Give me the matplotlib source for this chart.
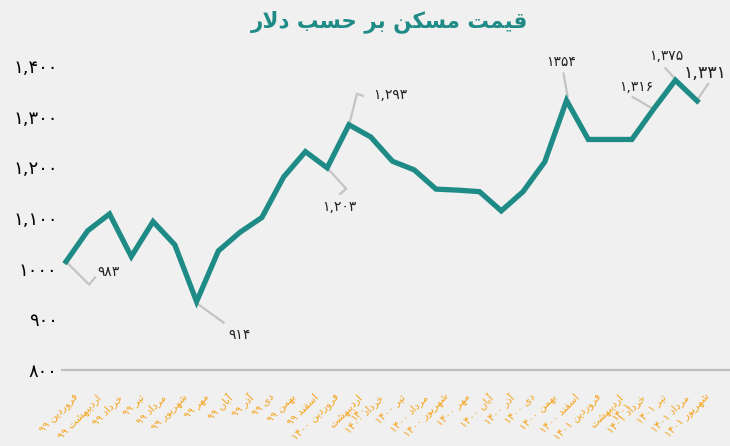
import matplotlib
matplotlib.use("Agg")
import matplotlib.pyplot as plt
import matplotlib.transforms as mtransforms
from matplotlib import font_manager, ft2font

# monthly housing price (USD per m2), farvardin 99 .. shahrivar 1401
MONTHS = ["فروردین", "اردیبهشت", "خرداد", "تیر", "مرداد", "شهریور",
          "مهر", "آبان", "آذر", "دی", "بهمن", "اسفند",
          "فروردین", "اردیبهشت", "خرداد", "تیر", "مرداد", "شهریور",
          "مهر", "آبان", "آذر", "دی", "بهمن", "اسفند",
          "فروردین", "اردیبهشت", "خرداد", "تیر", "مرداد", "شهریور"]
YEARS = ["۹۹"] * 12 + ["۱۴۰۰"] * 12 + ["۱۴۰۱"] * 6
PRICE = [1014, 1075, 1108, 1024, 1093, 1047, 935, 1035, 1072, 1101,
         1181, 1231, 1199, 1284, 1260, 1212, 1195, 1157, 1155, 1152,
         1114, 1152, 1211, 1332, 1255, 1255, 1255, 1315, 1372, 1331]

Y_TICKS = [800, 900, 1000, 1100, 1200, 1300, 1400]
Y_TICK_LABELS = ["۸۰۰", "۹۰۰", "۱۰۰۰", "۱,۱۰۰", "۱,۲۰۰", "۱,۳۰۰", "۱,۴۰۰"]

# data labels as printed on the chart
LABEL_IDX = [0, 6, 12, 13, 23, 27, 28, 29]
LABEL_TEXT = ["۹۸۳", "۹۱۴", "۱,۲۰۳", "۱,۲۹۳", "۱۳۵۴", "۱,۳۱۶", "۱,۳۷۵", "۱,۳۳۱"]

TITLE = "قیمت مسکن بر حسب دلار"

TEAL = "#1f8b86"
ORANGE = "#f5a31a"
BG = "#f0f0f0"
LEADER = "#c4c4c4"

# leader polylines and text offsets in pixels (x right, y up)
LEADERS = [
    ([0, 23, 29], [0, -23, -16], (31, -10), "left", 10),
    ([2, 27], [-3, -21], (32, -33), "left", 10),
    ([0, 19, 13], [0, -21, -26], (12, -39), "center", 10),
    ([1, 8, 14], [3, 31, 29], (24, 30), "left", 10),
    ([1, -3], [4, 27], (-5, 38), "center", 10),
    ([0, -21], [0, 12], (-17, 22), "center", 10),
    ([0, -10], [1, 12], (-9, 24), "center", 10),
    ([0, 11], [1, 17], (8, 28), "center", 12.5),
]

FORMS = {
    "ا": (0xFE8D, 0xFE8E), "آ": (0xFE81, 0xFE82), "د": (0xFEA9, 0xFEAA),
    "ذ": (0xFEAB, 0xFEAC), "ر": (0xFEAD, 0xFEAE), "و": (0xFEED, 0xFEEE),
    "ب": (0xFE8F, 0xFE90, 0xFE91, 0xFE92), "ت": (0xFE95, 0xFE96, 0xFE97, 0xFE98),
    "ح": (0xFEA1, 0xFEA2, 0xFEA3, 0xFEA4), "خ": (0xFEA5, 0xFEA6, 0xFEA7, 0xFEA8),
    "س": (0xFEB1, 0xFEB2, 0xFEB3, 0xFEB4), "ش": (0xFEB5, 0xFEB6, 0xFEB7, 0xFEB8),
    "ف": (0xFED1, 0xFED2, 0xFED3, 0xFED4), "ق": (0xFED5, 0xFED6, 0xFED7, 0xFED8),
    "ل": (0xFEDD, 0xFEDE, 0xFEDF, 0xFEE0), "م": (0xFEE1, 0xFEE2, 0xFEE3, 0xFEE4),
    "ن": (0xFEE5, 0xFEE6, 0xFEE7, 0xFEE8), "ه": (0xFEE9, 0xFEEA, 0xFEEB, 0xFEEC),
    "ک": (0xFB8E, 0xFB8F, 0xFB90, 0xFB91), "ی": (0xFBFC, 0xFBFD, 0xFBFE, 0xFBFF),
}

_cmap = ft2font.FT2Font(font_manager.findfont("DejaVu Sans")).get_charmap()
if 0xFB8E not in _cmap:
    FORMS["ک"] = (0xFED9, 0xFEDA, 0xFEDB, 0xFEDC)
if 0xFBFC not in _cmap:
    FORMS["ی"] = (0xFEEF, 0xFEF0, 0xFEF3, 0xFEF4)


def shape(text):
    """Join Persian letters into presentation forms, return in visual order."""
    out = []
    i = 0
    while i < len(text):
        c = text[i]
        if c not in FORMS:
            out.append(c)
            i += 1
            continue
        prev = text[i - 1] if i > 0 else None
        joins_prev = prev in FORMS and len(FORMS[prev]) == 4
        if c == "ل" and i + 1 < len(text) and text[i + 1] == "ا":
            out.append(chr(0xFEFC if joins_prev else 0xFEFB))
            i += 2
            continue
        nxt = text[i + 1] if i + 1 < len(text) else None
        joins_next = len(FORMS[c]) == 4 and nxt in FORMS
        f = FORMS[c]
        if joins_prev and joins_next:
            g = f[3]
        elif joins_prev:
            g = f[1]
        elif joins_next:
            g = f[2]
        else:
            g = f[0]
        out.append(chr(g))
        i += 1
    return "".join(reversed(out))


def month_label(month, year):
    # long names wrap the year onto a second line, as in the source chart
    if len(month) + len(year) > 11:
        return shape(month) + "\n" + year
    return year + " " + shape(month)


plt.rcParams["font.family"] = ["DejaVu Sans"]

fig = plt.figure(figsize=(7.3, 4.46), dpi=100, facecolor=BG)
ax = fig.add_axes([61.7 / 730, 1 - 370 / 446, 1 - 61.7 / 730, 304 / 446])
ax.set_facecolor(BG)

x = list(range(len(PRICE)))
ax.plot(x, PRICE, color=TEAL, lw=3.8, solid_joinstyle="miter", zorder=3)

ax.set_xlim(-0.198, 30.51)
ax.set_ylim(800, 1400)

for side in ["top", "right", "left"]:
    ax.spines[side].set_visible(False)
ax.spines["bottom"].set_color("#bfbfbf")
ax.spines["bottom"].set_linewidth(1.6)

ax.set_yticks(Y_TICKS)
ax.set_yticklabels(Y_TICK_LABELS, fontsize=13)
ax.tick_params(axis="y", length=0, pad=3)

ax.set_xticks(x)
ax.set_xticklabels([month_label(m, y) for m, y in zip(MONTHS, YEARS)],
                   rotation=45, ha="right", va="top", rotation_mode="anchor",
                   multialignment="right", linespacing=0.95,
                   fontsize=7.5, color=ORANGE)
ax.tick_params(axis="x", length=0, pad=16)
shift = mtransforms.ScaledTranslation(0.08, 0, fig.dpi_scale_trans)
for lab in ax.get_xticklabels():
    lab.set_transform(lab.get_transform() + shift)

for idx, txt, (lx, ly, (tx, ty), ha, fs) in zip(LABEL_IDX, LABEL_TEXT, LEADERS):
    anchor = mtransforms.ScaledTranslation(idx, PRICE[idx], ax.transData)
    ax.plot(lx, ly, color=LEADER, lw=1.6, transform=anchor, clip_on=False, zorder=2)
    ax.annotate(txt, xy=(idx, PRICE[idx]), xytext=(tx, ty), textcoords="offset pixels",
                ha=ha, va="center", fontsize=fs, color="#222222", annotation_clip=False)

fig.text(390 / 730, 1 - 22 / 446, shape(TITLE), ha="center", va="center",
         fontsize=15.5, fontweight="bold", color=TEAL)

fig.savefig("out.png", dpi=100, facecolor=BG)
